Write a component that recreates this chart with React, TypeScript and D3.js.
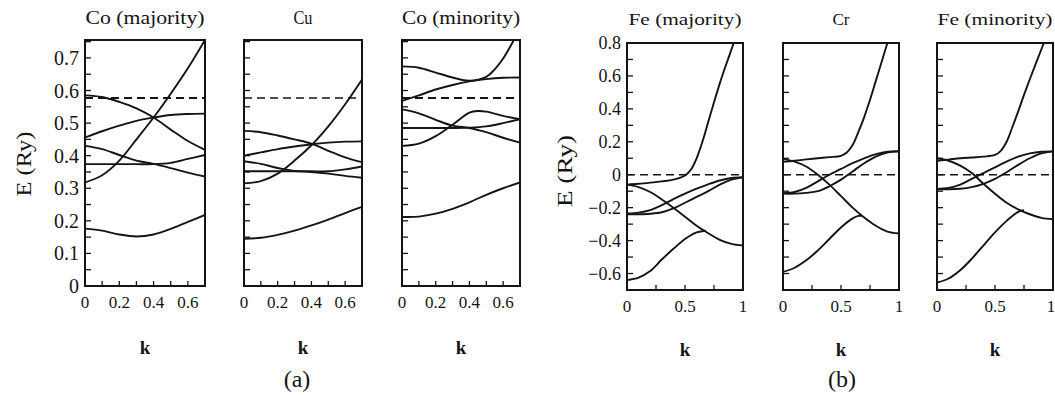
import React from 'react';
import * as d3 from 'd3';

type Pt = [number, number];

// ---------- DATA ----------
const coMajorityBands: Pt[][] = [
  [[0, 0.318], [0.1, 0.34], [0.2, 0.385], [0.3, 0.45], [0.4, 0.517], [0.5, 0.59], [0.6, 0.668], [0.7, 0.755]],
  [[0, 0.585], [0.1, 0.58], [0.2, 0.565], [0.3, 0.545], [0.4, 0.517], [0.5, 0.48], [0.6, 0.445], [0.7, 0.418]],
  [[0, 0.456], [0.1, 0.475], [0.2, 0.492], [0.3, 0.507], [0.4, 0.517], [0.5, 0.525], [0.6, 0.528], [0.7, 0.529]],
  [[0, 0.43], [0.1, 0.42], [0.2, 0.402], [0.3, 0.385], [0.4, 0.375], [0.5, 0.362], [0.6, 0.348], [0.7, 0.336]],
  [[0, 0.374], [0.1, 0.374], [0.2, 0.374], [0.3, 0.374], [0.4, 0.374], [0.5, 0.378], [0.6, 0.39], [0.7, 0.402]],
  [[0, 0.176], [0.1, 0.17], [0.2, 0.158], [0.3, 0.152], [0.4, 0.158], [0.5, 0.175], [0.6, 0.197], [0.7, 0.218]],
];

const cuBands: Pt[][] = [
  [[0, 0.315], [0.1, 0.322], [0.2, 0.345], [0.3, 0.385], [0.4, 0.432], [0.5, 0.49], [0.6, 0.558], [0.7, 0.634]],
  [[0, 0.476], [0.1, 0.472], [0.2, 0.462], [0.3, 0.45], [0.4, 0.437], [0.5, 0.415], [0.6, 0.395], [0.7, 0.38]],
  [[0, 0.4], [0.1, 0.41], [0.2, 0.42], [0.3, 0.428], [0.4, 0.435], [0.5, 0.44], [0.6, 0.443], [0.7, 0.444]],
  [[0, 0.383], [0.1, 0.375], [0.2, 0.362], [0.3, 0.353], [0.4, 0.35], [0.5, 0.345], [0.6, 0.338], [0.7, 0.332]],
  [[0, 0.352], [0.1, 0.352], [0.2, 0.352], [0.3, 0.352], [0.4, 0.352], [0.5, 0.352], [0.6, 0.358], [0.7, 0.367]],
  [[0, 0.145], [0.1, 0.148], [0.2, 0.157], [0.3, 0.17], [0.4, 0.186], [0.5, 0.204], [0.6, 0.224], [0.7, 0.243]],
];

const coMinorityBands: Pt[][] = [
  [[0, 0.674], [0.1, 0.67], [0.2, 0.655], [0.3, 0.64], [0.4, 0.63], [0.5, 0.642], [0.55, 0.665], [0.6, 0.698], [0.65, 0.742], [0.7, 0.79]],
  [[0, 0.568], [0.1, 0.585], [0.2, 0.603], [0.3, 0.617], [0.4, 0.628], [0.5, 0.635], [0.6, 0.639], [0.7, 0.64]],
  [[0, 0.542], [0.1, 0.53], [0.2, 0.51], [0.3, 0.492], [0.4, 0.485], [0.5, 0.472], [0.6, 0.455], [0.7, 0.44]],
  [[0, 0.43], [0.1, 0.437], [0.2, 0.46], [0.3, 0.495], [0.4, 0.532], [0.45, 0.537], [0.5, 0.535], [0.6, 0.522], [0.7, 0.512]],
  [[0, 0.485], [0.1, 0.485], [0.2, 0.485], [0.3, 0.485], [0.4, 0.486], [0.5, 0.49], [0.6, 0.5], [0.7, 0.512]],
  [[0, 0.212], [0.1, 0.213], [0.2, 0.222], [0.3, 0.237], [0.4, 0.257], [0.5, 0.28], [0.6, 0.3], [0.7, 0.318]],
];

const feMajorityBands: Pt[][] = [
  [[0, -0.06], [0.1, -0.055], [0.2, -0.048], [0.3, -0.04], [0.4, -0.03], [0.5, -0.005], [0.55, 0.03], [0.6, 0.1], [0.65, 0.2], [0.7, 0.32], [0.75, 0.44], [0.8, 0.555], [0.85, 0.66], [0.9, 0.76], [0.95, 0.86]],
  [[0, -0.06], [0.1, -0.075], [0.2, -0.105], [0.3, -0.15], [0.4, -0.2], [0.5, -0.255], [0.6, -0.31], [0.7, -0.355], [0.8, -0.395], [0.9, -0.42], [1, -0.43]],
  [[0, -0.235], [0.1, -0.23], [0.2, -0.215], [0.3, -0.185], [0.4, -0.148], [0.5, -0.115], [0.6, -0.085], [0.7, -0.058], [0.8, -0.035], [0.9, -0.02], [1, -0.015]],
  [[0, -0.24], [0.1, -0.24], [0.2, -0.237], [0.3, -0.228], [0.4, -0.205], [0.5, -0.17], [0.6, -0.135], [0.7, -0.1], [0.8, -0.06], [0.9, -0.03], [1, -0.015]],
  [[0, -0.64], [0.1, -0.625], [0.2, -0.585], [0.3, -0.515], [0.4, -0.45], [0.5, -0.39], [0.6, -0.35], [0.68, -0.34]],
];

const crBands: Pt[][] = [
  [[0, 0.078], [0.1, 0.085], [0.2, 0.093], [0.3, 0.1], [0.4, 0.107], [0.5, 0.115], [0.55, 0.135], [0.6, 0.18], [0.65, 0.26], [0.7, 0.35], [0.75, 0.455], [0.8, 0.57], [0.85, 0.685], [0.9, 0.8], [0.95, 0.92]],
  [[0, 0.095], [0.1, 0.08], [0.2, 0.05], [0.3, 0.0], [0.4, -0.06], [0.5, -0.13], [0.6, -0.2], [0.7, -0.26], [0.8, -0.31], [0.9, -0.345], [1, -0.357]],
  [[0, -0.112], [0.1, -0.105], [0.2, -0.08], [0.3, -0.04], [0.4, 0.0], [0.5, 0.035], [0.6, 0.07], [0.7, 0.1], [0.8, 0.125], [0.9, 0.14], [1, 0.142]],
  [[0, -0.115], [0.1, -0.115], [0.2, -0.11], [0.3, -0.1], [0.4, -0.07], [0.5, -0.03], [0.6, 0.02], [0.7, 0.07], [0.8, 0.11], [0.9, 0.135], [1, 0.142]],
  [[0, -0.59], [0.1, -0.565], [0.2, -0.52], [0.3, -0.46], [0.4, -0.39], [0.5, -0.32], [0.6, -0.265], [0.65, -0.25], [0.68, -0.25]],
];

const feMinorityBands: Pt[][] = [
  [[0, 0.085], [0.1, 0.092], [0.2, 0.1], [0.3, 0.105], [0.4, 0.11], [0.5, 0.12], [0.55, 0.145], [0.6, 0.2], [0.65, 0.29], [0.7, 0.385], [0.75, 0.485], [0.8, 0.58], [0.85, 0.672], [0.9, 0.762], [0.95, 0.85]],
  [[0, 0.1], [0.1, 0.085], [0.2, 0.055], [0.3, 0.01], [0.4, -0.055], [0.5, -0.115], [0.6, -0.17], [0.7, -0.21], [0.8, -0.24], [0.9, -0.262], [1, -0.27]],
  [[0, -0.086], [0.1, -0.08], [0.2, -0.06], [0.3, -0.025], [0.4, 0.01], [0.5, 0.045], [0.6, 0.08], [0.7, 0.11], [0.8, 0.13], [0.9, 0.14], [1, 0.142]],
  [[0, -0.088], [0.1, -0.088], [0.2, -0.085], [0.3, -0.075], [0.4, -0.055], [0.5, -0.025], [0.6, 0.015], [0.7, 0.06], [0.8, 0.1], [0.9, 0.13], [1, 0.142]],
  [[0, -0.655], [0.1, -0.63], [0.2, -0.58], [0.3, -0.51], [0.4, -0.43], [0.5, -0.35], [0.6, -0.28], [0.7, -0.225], [0.75, -0.215]],
];

const fermiA = 0.577;
const fermiB = 0;

const kTicksA = [0, 0.2, 0.4, 0.6];
const kTickLabelsA = ['0', '0.2', '0.4', '0.6'];
const kMinorA = [0.1, 0.2, 0.3, 0.4, 0.5, 0.6];
const eTicksA = [0, 0.1, 0.2, 0.3, 0.4, 0.5, 0.6, 0.7];
const eTickLabelsA = ['0', '0.1', '0.2', '0.3', '0.4', '0.5', '0.6', '0.7'];
const eMinorA = d3.range(0, 0.76, 0.05);

const kTicksB = [0, 0.5, 1];
const kTickLabelsB = ['0', '0.5', '1'];
const kMinorB = [0.25, 0.5, 0.75];
const eTicksB = [0.8, 0.6, 0.4, 0.2, 0, -0.2, -0.4, -0.6];
const eTickLabelsB = ['0.8', '0.6', '0.4', '0.2', '0', '\u22120.2', '\u22120.4', '\u22120.6'];
const eMinorB = d3.range(-0.7, 0.81, 0.1);

const titlesA = ['Co (majority)', 'Cu', 'Co (minority)'];
const titlesB = ['Fe (majority)', 'Cr', 'Fe (minority)'];

// ---------- LAYOUT ----------
const W = 1055;
const H = 395;
const SERIF = "'Liberation Serif', 'Times New Roman', serif";
const INK = '#141414';

interface PanelCfg {
  id: string;
  title: string;
  titleLen?: number;
  titleSize: number;
  x0: number;
  x1: number;
  top: number;
  bottom: number;
  kMax: number;
  eMin: number;
  eMax: number;
  bands: Pt[][];
  fermi: number;
  dashW: number;
  group: 'a' | 'b';
  showY: boolean;
}

const panels: PanelCfg[] = [
  { id: 'p1', title: titlesA[0], titleLen: 119, titleSize: 18, x0: 85, x1: 205, top: 40, bottom: 286, kMax: 0.7, eMin: 0, eMax: 0.755, bands: coMajorityBands, fermi: fermiA, dashW: 2.2, group: 'a', showY: true },
  { id: 'p2', title: titlesA[1], titleLen: 19, titleSize: 18, x0: 244, x1: 362, top: 40, bottom: 286, kMax: 0.7, eMin: 0, eMax: 0.755, bands: cuBands, fermi: fermiA, dashW: 1.4, group: 'a', showY: false },
  { id: 'p3', title: titlesA[2], titleLen: 118, titleSize: 18, x0: 402, x1: 520, top: 40, bottom: 286, kMax: 0.7, eMin: 0, eMax: 0.755, bands: coMinorityBands, fermi: fermiA, dashW: 2, group: 'a', showY: false },
  { id: 'p4', title: titlesB[0], titleLen: 113, titleSize: 16, x0: 627, x1: 743, top: 43, bottom: 290, kMax: 1, eMin: -0.7, eMax: 0.8, bands: feMajorityBands, fermi: fermiB, dashW: 1.6, group: 'b', showY: true },
  { id: 'p5', title: titlesB[1], titleLen: 17, titleSize: 16, x0: 783, x1: 899, top: 43, bottom: 290, kMax: 1, eMin: -0.7, eMax: 0.8, bands: crBands, fermi: fermiB, dashW: 1.6, group: 'b', showY: false },
  { id: 'p6', title: titlesB[2], titleLen: 115, titleSize: 16, x0: 937, x1: 1053, top: 43, bottom: 290, kMax: 1, eMin: -0.7, eMax: 0.8, bands: feMinorityBands, fermi: fermiB, dashW: 1.6, group: 'b', showY: false },
];

function Panel({ p }: { p: PanelCfg }) {
  const x = d3.scaleLinear().domain([0, p.kMax]).range([p.x0, p.x1]);
  const y = d3.scaleLinear().domain([p.eMin, p.eMax]).range([p.bottom, p.top]);
  const line = d3
    .line<Pt>()
    .x((d) => x(d[0]))
    .y((d) => y(d[1]))
    .curve(d3.curveCatmullRom.alpha(0.5));
  const isA = p.group === 'a';
  const kTicks = isA ? kTicksA : kTicksB;
  const kLabels = isA ? kTickLabelsA : kTickLabelsB;
  const kMinor = isA ? kMinorA : kMinorB;
  const eTicks = isA ? eTicksA : eTicksB;
  const eLabels = isA ? eTickLabelsA : eTickLabelsB;
  const eMinor = isA ? eMinorA : eMinorB;
  const cx = (p.x0 + p.x1) / 2;
  return (
    <g>
      <defs>
        <clipPath id={`clip-${p.id}`}>
          <rect x={p.x0} y={p.top} width={p.x1 - p.x0} height={p.bottom - p.top} />
        </clipPath>
      </defs>
      <text
        x={cx}
        y={isA ? 24 : 25}
        textAnchor="middle"
        fontFamily={SERIF}
        fontSize={p.titleSize}
        fill={INK}
        textLength={p.titleLen}
        lengthAdjust="spacingAndGlyphs"
      >
        {p.title}
      </text>
      <g clipPath={`url(#clip-${p.id})`}>
        <line
          x1={p.x0}
          x2={p.x1}
          y1={y(p.fermi)}
          y2={y(p.fermi)}
          stroke={INK}
          strokeWidth={p.dashW}
          strokeDasharray="8 5"
        />
        {p.bands.map((b, i) => (
          <path key={i} d={line(b) || ''} fill="none" stroke={INK} strokeWidth={1.9} strokeLinejoin="round" />
        ))}
      </g>
      {eMinor.map((e, i) => (
        <line key={`ym${i}`} x1={p.x0} x2={p.x0 + 6} y1={y(e)} y2={y(e)} stroke={INK} strokeWidth={1.3} />
      ))}
      {kMinor.map((k, i) => (
        <line key={`xm${i}`} x1={x(k)} x2={x(k)} y1={p.bottom} y2={p.bottom - 5} stroke={INK} strokeWidth={1.3} />
      ))}
      <rect
        x={p.x0}
        y={p.top}
        width={p.x1 - p.x0}
        height={p.bottom - p.top}
        fill="none"
        stroke={INK}
        strokeWidth={2}
      />
      {kTicks.map((k, i) => (
        <text
          key={`xl${i}`}
          x={x(k) + (p.id === 'p6' && k === 1 ? -2 : 0)}
          y={p.bottom + 22}
          textAnchor="middle"
          fontFamily={SERIF}
          fontSize={17}
          fill={INK}
        >
          {kLabels[i]}
        </text>
      ))}
      {p.showY &&
        eTicks.map((e, i) => (
          <text
            key={`yl${i}`}
            x={p.x0 - 6}
            y={y(e)}
            dy="0.35em"
            textAnchor="end"
            fontFamily={SERIF}
            fontSize={isA ? 20 : 18}
            fill={INK}
          >
            {eLabels[i]}
          </text>
        ))}
      <text
        x={cx}
        y={isA ? 354 : 356}
        textAnchor="middle"
        fontFamily={SERIF}
        fontWeight="bold"
        fontSize={19}
        fill={INK}
      >
        k
      </text>
    </g>
  );
}

export default function App() {
  return (
    <svg
      width={W}
      height={H}
      viewBox={`0 0 ${W} ${H}`}
      style={{ position: 'absolute', left: 0, top: 0, background: '#fff' }}
    >
      <rect x={0} y={0} width={W} height={H} fill="#fff" />
      {panels.map((p) => (
        <Panel key={p.id} p={p} />
      ))}
      <text
        transform="translate(31,164) rotate(-90)"
        textAnchor="middle"
        fontFamily={SERIF}
        fontSize={21}
        fill={INK}
        textLength={65}
        lengthAdjust="spacingAndGlyphs"
      >
        E (Ry)
      </text>
      <text
        transform="translate(572,171) rotate(-90)"
        textAnchor="middle"
        fontFamily={SERIF}
        fontSize={21}
        fill={INK}
        textLength={72}
        lengthAdjust="spacingAndGlyphs"
      >
        E (Ry)
      </text>
      <text x={297} y={387} textAnchor="middle" fontFamily={SERIF} fontSize={24} fill={INK}>
        (a)
      </text>
      <text x={842} y={387} textAnchor="middle" fontFamily={SERIF} fontSize={24} fill={INK}>
        (b)
      </text>
    </svg>
  );
}
